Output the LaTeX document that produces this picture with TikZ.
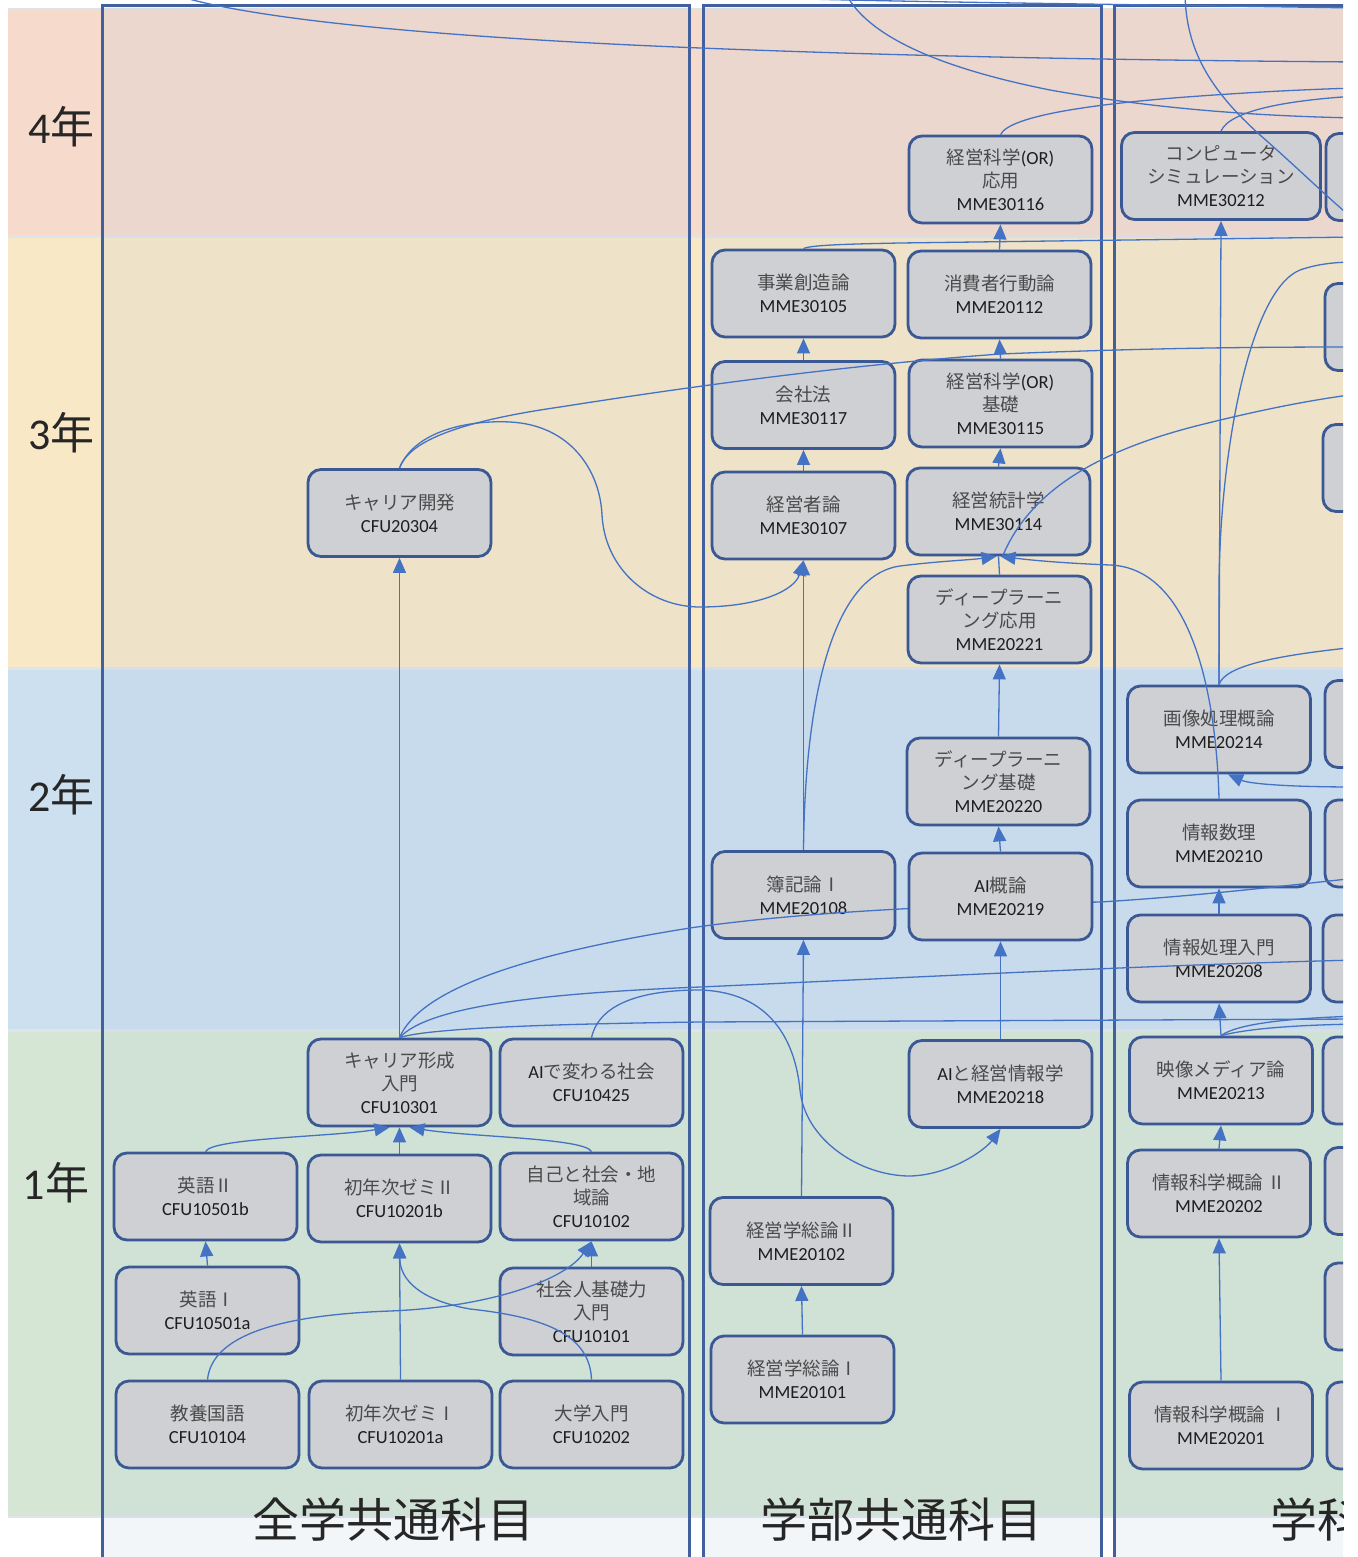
\documentclass[tikz,border=0pt]{standalone}
\usepackage{fontspec}
\setmainfont{Carlito}
\newfontfamily\jp{Noto Sans CJK JP}
\usetikzlibrary{arrows.meta}
\definecolor{edgec}{HTML}{4472C4}
\definecolor{nodef}{HTML}{CFD0D4}
\definecolor{nodeb}{HTML}{3A5894}
\definecolor{framec}{HTML}{41609D}
\definecolor{txt}{HTML}{262626}
\definecolor{jpc}{HTML}{4A4A4A}
\definecolor{codec}{HTML}{1E1E1E}
\definecolor{sepc}{HTML}{DFE3EA}
\definecolor{bandA}{HTML}{F6DBCD}
\definecolor{bandB}{HTML}{F9E8C6}
\definecolor{bandC}{HTML}{CDE0F0}
\definecolor{bandD}{HTML}{D6E6D5}
\definecolor{colov}{HTML}{AFC3D7}
\newcommand{\JP}[1]{{\jp\color{jpc}#1}}
\begin{document}
\begin{tikzpicture}[x=1pt,y=-1pt,
  cbox/.style={draw=nodeb, line width=2.8pt, fill=nodef, rounded corners=13pt,
    minimum width=183pt, minimum height=87pt, inner sep=0pt, align=center,
    font=\fontsize{18.5}{23}\selectfont, text=codec},
  arr/.style={draw=edgec, line width=1.3pt, -{Triangle[length=15pt,width=13pt]}},
  ln/.style={draw=edgec, line width=1.3pt},
  yearlab/.style={font=\fontsize{44}{44}\selectfont, text=txt, inner sep=0pt},
  coltitle/.style={font=\jp\fontsize{47}{47}\selectfont, text=txt, inner sep=0pt},
  colframe/.style={draw=framec, line width=3pt},
  colfill/.style={fill=colov, fill opacity=0.14}
]
\useasboundingbox (0,0) rectangle (1357,1557);
\fill[white] (0,0) rectangle (1357,1557);
\begin{scope}
\clip (0,0) rectangle (1343,1557);
% bands
\fill[sepc] (8,8) rectangle (1343,1518);
\fill[bandA] (8,9.5) rectangle (1343,235);
\fill[bandB] (8,238) rectangle (1343,667);
\fill[bandC] (8,669.5) rectangle (1343,1029);
\fill[bandD] (8,1031.5) rectangle (1343,1516);
% columns
\fill[colfill] (102,6) rectangle (689,1570);
\fill[colfill] (703,6) rectangle (1101,1570);
\fill[colfill] (1114,6) rectangle (1360,1570);
\draw[colframe] (102,1570) -- (102,6) -- (689,6) -- (689,1570);
\draw[colframe] (703,1570) -- (703,6) -- (1101,6) -- (1101,1570);
\draw[colframe] (1114,1570) -- (1114,6) -- (1360,6);
% year labels
\node[yearlab] (y4) at (61.5,127) {4{\jp 年}};
\node[yearlab] (y3) at (61.5,433) {3{\jp 年}};
\node[yearlab] (y2) at (61.5,795) {2{\jp 年}};
\node[yearlab] (y1) at (56,1183) {1{\jp 年}};
% column titles
\node[coltitle] (t1) at (393,1520) {全学共通科目};
\node[coltitle] (t2) at (901,1520) {学部共通科目};
\node[coltitle,anchor=west] (t3) at (1270,1520) {学科};
% ---- nodes column 1
\node[cbox] (kaihatsu) at (399.5,513) {\JP{キャリア開発}\\CFU20304};
\node[cbox] (kyariaK) at (399.5,1082.5) {\JP{キャリア形成}\\\JP{入門}\\CFU10301};
\node[cbox] (aisoc) at (591.5,1082.5) {AI\JP{で変わる社会}\\CFU10425};
\node[cbox] (eiB) at (205.5,1196.5) {\JP{英語Ⅱ}\\CFU10501b};
\node[cbox] (zemiB) at (399.5,1198.5) {\JP{初年次ゼミⅡ}\\CFU10201b};
\node[cbox] (jiko) at (591.5,1196.5) {\JP{自己と社会・地}\\\JP{域論}\\CFU10102};
\node[cbox] (eiA) at (207.5,1310.5) {\JP{英語Ⅰ}\\CFU10501a};
\node[cbox] (shakai) at (591.5,1311.5) {\JP{社会人基礎力}\\\JP{入門}\\CFU10101};
\node[cbox] (kokugo) at (207.5,1424.5) {\JP{教養国語}\\CFU10104};
\node[cbox] (zemiA) at (400.5,1424.5) {\JP{初年次ゼミⅠ}\\CFU10201a};
\node[cbox] (daigaku) at (591.5,1424.5) {\JP{大学入門}\\CFU10202};
% ---- nodes column 2
\node[cbox] (orA) at (1000.5,179.5) {\JP{経営科学}(OR)\\\JP{応用}\\MME30116};
\node[cbox] (jigyo) at (803.5,293.5) {\JP{事業創造論}\\MME30105};
\node[cbox] (shohi) at (999.5,294.5) {\JP{消費者行動論}\\MME20112};
\node[cbox] (kaisha) at (803.5,405) {\JP{会社法}\\MME30117};
\node[cbox] (orB) at (1000.5,403.5) {\JP{経営科学}(OR)\\\JP{基礎}\\MME30115};
\node[cbox] (keieisha) at (803.5,515.5) {\JP{経営者論}\\MME30107};
\node[cbox] (toukei) at (998.5,511.5) {\JP{経営統計学}\\MME30114};
\node[cbox] (dlA) at (999.5,619.5) {\JP{ディープラーニ}\\\JP{ング応用}\\MME20221};
\node[cbox] (dlB) at (998.5,781.5) {\JP{ディープラーニ}\\\JP{ング基礎}\\MME20220};
\node[cbox] (boki) at (803.5,895) {\JP{簿記論Ⅰ}\\MME20108};
\node[cbox] (aik) at (1000.5,1084) {AI\JP{と経営情報学}\\MME20218};
\node[cbox] (soB) at (801.5,1241) {\JP{経営学総論Ⅱ}\\MME20102};
\node[cbox] (soA) at (802.5,1379.5) {\JP{経営学総論Ⅰ}\\MME20101};
% ---- nodes column 3
\node[cbox,minimum width=199pt] (comp) at (1221,176) {\JP{コンピュータ}\\\JP{シミュレーション}\\MME30212};
\node[cbox] (gazo) at (1219,729.5) {\JP{画像処理概論}\\MME20214};
\node[cbox] (suri) at (1219,843.5) {\JP{情報数理}\\MME20210};
\node[cbox] (shoriN) at (1219,958.5) {\JP{情報処理入門}\\MME20208};
\node[cbox] (eizo) at (1221,1080.5) {\JP{映像メディア論}\\MME20213};
\node[cbox] (kagaku2) at (1219,1193.5) {\JP{情報科学概論 Ⅱ}\\MME20202};
\node[cbox] (kagaku1) at (1221,1425.5) {\JP{情報科学概論 Ⅰ}\\MME20201};
% ---- partial nodes at the right edge
\node[cbox] (p1) at (1417.5,177) {};
\node[cbox] (p2) at (1416.5,327) {};
\node[cbox] (p3) at (1414.5,468) {};
\node[cbox] (p4) at (1416.5,724) {};
\node[cbox] (p5) at (1416.5,843.5) {};
\node[cbox] (p6) at (1414.5,958.5) {};
\node[cbox] (p7) at (1414.5,1080.5) {};
\node[cbox] (p8) at (1416.5,1191) {};
\node[cbox] (p9) at (1416.5,1306.5) {};
\node[cbox] (p10) at (1418.5,1425.5) {};
% free ends
\coordinate (oA) at (1357,347);
\coordinate (oB) at (1357,394);
\coordinate (oC) at (1357,262);
\coordinate (oD) at (1357,647);
\coordinate (oE) at (1357,787);
\coordinate (oF) at (1357,1016);
\coordinate (oG) at (1357,1024);
\coordinate (oH) at (1357,960);
\coordinate (oI) at (1357,1019);
\coordinate (oJ) at (1357,878);
\coordinate (oT1) at (172,-6);
\coordinate (oT2) at (1357,62);
\coordinate (oT3) at (846,-6);
\coordinate (oT4) at (1357,118);
\coordinate (oT5) at (1357,88);
\coordinate (oT6) at (1357,96);
\coordinate (oT7) at (1185,-6);
\coordinate (oT8) at (1357,222);
\coordinate (oT9) at (1357,237);
\coordinate (oT10) at (770,-2);
\coordinate (oT11) at (1357,8);
% line that runs behind AI概論
\draw[ln] (kyariaK.north) .. controls (420,990) and (520,955) .. (690,928) .. controls (800,912) and (950,905) .. (1100,902) .. controls (1200,896) and (1300,884) .. (oJ);
\node[cbox] (ai) at (1000.5,896.5) {AI\JP{概論}\\MME20219};
% ---- connectors column 1
\draw[arr] (eiA.north) -- (eiB.south);
\draw[arr] (zemiA.north) -- (zemiB.south);
\draw[arr] (shakai.north) -- (jiko.south);
\draw[arr] (kokugo.north) .. controls (212,1335) and (280,1315) .. (390,1311) .. controls (490,1307) and (565,1280) .. (jiko.south);
\draw[arr] (daigaku.north) .. controls (590,1335) and (545,1317) .. (470,1309) .. controls (420,1300) and (400,1280) .. (zemiB.south);
\draw[arr] (eiB.north) .. controls (212,1138) and (330,1137) .. ([xshift=-10pt]kyariaK.south);
\draw[arr] (zemiB.north) -- (kyariaK.south);
\draw[arr] (jiko.north) .. controls (585,1138) and (470,1137) .. ([xshift=10pt]kyariaK.south);
\draw[arr] (kyariaK.north) -- (kaihatsu.south);
\draw[ln] (kaihatsu.north) .. controls (410,438) and (470,420) .. (560,407) .. controls (700,385) and (850,365) .. (1000,354) .. controls (1150,348) and (1250,347) .. (oA);
\draw[arr] (kaihatsu.north) .. controls (415,430) and (470,420) .. (510,422) .. controls (570,425) and (600,470) .. (602,515) .. controls (605,570) and (650,607) .. (700,607) .. controls (760,607) and (795,590) .. (keieisha.south);
\draw[ln] (kyariaK.north) .. controls (430,1005) and (550,993) .. (700,987) .. controls (900,978) and (1150,965) .. (oH);
\draw[ln] (kyariaK.north) .. controls (430,1028) and (550,1024) .. (700,1022) -- (oI);
\draw[arr] (aisoc.north) .. controls (600,1000) and (650,990) .. (700,990) .. controls (770,992) and (795,1040) .. (800,1090) .. controls (805,1140) and (860,1176) .. (910,1176) .. controls (950,1175) and (985,1150) .. (aik.south);
% ---- connectors column 2
\draw[arr] (boki.north) -- (keieisha.south);
\draw[arr] (boki.north) .. controls (805,690) and (835,575) .. (900,566) .. controls (940,561) and (970,560) .. ([xshift=-2pt]toukei.south);
\draw[arr] (keieisha.north) -- (kaisha.south);
\draw[arr] (kaisha.north) -- (jigyo.south);
\draw[arr] (orB.north) -- (shohi.south);
\draw[arr] (shohi.north) -- (orA.south);
\draw[arr] (toukei.north) -- (orB.south);
\draw[ln] (dlA.north) -- (toukei.south);
\draw[arr] (dlB.north) -- (dlA.south);
\draw[arr] (ai.north) -- (dlB.south);
\draw[arr] (aik.north) -- (ai.south);
\draw[arr] (soA.north) -- (soB.south);
\draw[arr] (soB.north) -- (boki.south);
\draw[arr] (suri.north) .. controls (1216,690) and (1190,568) .. (1110,565) .. controls (1060,563) and (1030,560) .. ([xshift=2pt]toukei.south);
\draw[ln] ([xshift=4pt]toukei.south) .. controls (1030,490) and (1100,450) .. (1200,425) .. controls (1260,410) and (1310,400) .. (oB);
\draw[ln] (jigyo.north) .. controls (810,245) and (850,244) .. (900,243) -- (oT9);
% ---- connectors column 3
\draw[arr] (gazo.north) -- (comp.south);
\draw[ln] (gazo.north) -- (1219,585) .. controls (1220,450) and (1250,290) .. (1300,270) .. controls (1320,263) and (1340,262) .. (oC);
\draw[ln] (gazo.north) .. controls (1225,665) and (1280,655) .. (oD);
\draw[arr] (oE) .. controls (1290,787) and (1250,784) .. ([xshift=9pt]gazo.south);
\draw[arr] (shoriN.north) -- (suri.south);
\draw[arr] (eizo.north) -- (shoriN.south);
\draw[arr] (kagaku2.north) -- (eizo.south);
\draw[arr] (kagaku1.north) -- (kagaku2.south);
\draw[ln] (eizo.north) .. controls (1240,1022) and (1300,1018) .. (oF);
\draw[ln] (eizo.north) .. controls (1250,1028) and (1300,1025) .. (oG);
% ---- top lines
\draw[ln] (oT1) .. controls (250,20) and (450,38) .. (700,48) .. controls (900,56) and (1100,60) .. (oT2);
\draw[ln] (oT3) .. controls (870,40) and (950,70) .. (1050,90) .. controls (1150,108) and (1250,116) .. (oT4);
\draw[ln] (orA.north) .. controls (1010,115) and (1100,103) .. (1200,96) .. controls (1270,91) and (1320,89) .. (oT5);
\draw[ln] (comp.north) .. controls (1230,110) and (1290,100) .. (oT6);
\draw[ln] (oT7) .. controls (1186,50) and (1210,90) .. (1260,135) .. controls (1300,170) and (1330,200) .. (oT8);
\draw[ln] (oT10) .. controls (900,2) and (1100,4) .. (oT11);
\end{scope}
\end{tikzpicture}
\end{document}
